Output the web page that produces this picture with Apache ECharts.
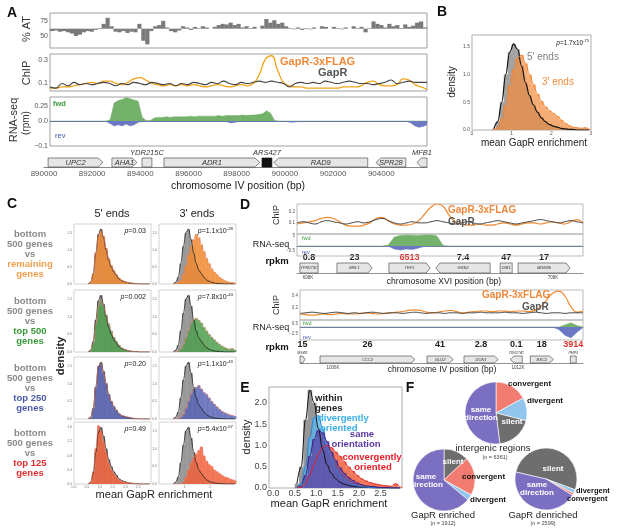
<!DOCTYPE html>
<html>
<head>
<meta charset="utf-8">
<title>GapR enrichment figure</title>
<script src="https://cdn.jsdelivr.net/npm/echarts@6/dist/echarts.min.js"></script>
<style>
  html, body { margin: 0; padding: 0; background: #fff; }
  #chart { width: 617px; height: 531px; }
</style>
</head>
<body>
<div id="chart"></div>
<script>
// ---------------- data: panel A ----------------
const atBaseline = 62;
const atTrack = [58,59,57,58,56,54,50,52,56,58, 57,60,63,70,80,66,57,56,58,55,
  57,56,70,42,36,58,66,68,75,64, 58,56,59,66,64,60,65,63,66,64,
  62,65,68,70,69,72,68,70,64,66, 63,65,62,67,78,72,76,70,72,66,
  63,61,64,60,63,61,64,62,66,65, 62,65,63,61,64,62,66,63,65,56,
  63,74,70,68,64,70,66,68,63,69, 65,67,72,74,64];
const chipGapR = [0.07,0.06,0.10,0.08,0.11,0.09,0.10,0.09,0.10,0.11, 0.10,0.08,0.10,0.09,0.11,0.10,0.09,0.11,0.10,0.09,
  0.10,0.08,0.10,0.09,0.11,0.10,0.09,0.11,0.10,0.12, 0.10,0.09,0.11,0.10,0.11,0.12,0.11,0.12,0.11,0.10,
  0.07,0.10,0.11,0.10,0.11,0.10,0.12,0.11,0.10,0.11, 0.12,0.11,0.10,0.10,0.09,0.10,0.11,0.13,0.10,0.11,
  0.12,0.11,0.11,0.11];
const chipFlag = [0.06,0.06,0.07,0.07,0.08,0.09,0.10,0.11,0.10,0.12, 0.12,0.10,0.09,0.11,0.14,0.15,0.13,0.10,0.09,0.08,
  0.09,0.08,0.09,0.08,0.09,0.08,0.07,0.08,0.09,0.08, 0.07,0.08,0.09,0.08,0.10,0.18,0.31,0.34,0.22,0.11,
  0.08,0.07,0.07,0.06,0.06,0.06,0.06,0.06,0.06,0.07, 0.07,0.07,0.08,0.11,0.12,0.09,0.08,0.08,0.09,0.14,
  0.13,0.09,0.07,0.05];
const rnaFwdA = [0,0,0,0,0,0,0,0,0,0,0,0,0,0,0, 0.02,
  0.3,0.34,0.36,0.39,0.37,0.35,0.33, 0.06, 0.01,0.01,
  0.05,0.06,0.06,0.07,0.06,0.07,0.07,0.07,0.07,0.08,0.07,0.08,0.08,0.08,
  0.08,0.08,0.09,0.08,0.09,0.09,0.09,0.09,0.1,0.09,0.1,0.1,0.11,0.12,
  0.17,0.13,0.01,
  0,0,0,0,0,0,0,0,0,0,0,0,0,0,0,0,0,0,0,0,0,0,0,0,0,0,0,0,0,0,0,0,0,0,0,0,0,0];
const rnaRevA = [-0.002,-0.002,-0.002,-0.002,-0.002,-0.002,-0.002,-0.002,-0.002,-0.002,-0.002,-0.002,-0.002,-0.002,-0.002,
  -0.01,-0.02,-0.015,-0.02,-0.012,-0.02,-0.015,-0.005,
  -0.002,-0.002,-0.002,-0.002,-0.002,-0.002,-0.002,-0.002,-0.002,-0.002,-0.002,-0.002,-0.002,-0.002,-0.002,-0.002,-0.002,-0.002,-0.002,-0.002,-0.002,-0.002,
  -0.008,-0.006,
  -0.002,-0.002,-0.002,-0.002,-0.002,-0.002,-0.002,-0.002,-0.002,-0.002,-0.002,-0.002,-0.002,
  -0.005,-0.004,
  -0.002,-0.002,-0.002,-0.002,-0.002,-0.002,-0.002,-0.002,-0.002,-0.002,-0.002,-0.002,-0.002,-0.002,
  -0.002,-0.002,-0.002,-0.002,-0.002,-0.002,-0.002,-0.002,-0.002,-0.002,-0.002,-0.002,-0.002,-0.002,
  -0.008,-0.02,-0.025,-0.022,-0.015];
// [name, start, end, strand (1 fwd, -1 rev, 0 none, 2 ARS), label position]
const genesA = [
  ['UPC2', 890170, 892450, 1, 'in'],
  ['AHA1', 892820, 893860, 1, 'in'],
  ['YDR215C', 894070, 894480, 0, 'above'],
  ['ADR1', 894980, 898960, 1, 'in'],
  ['ARS427', 899050, 899460, 2, 'above'],
  ['RAD9', 899540, 903440, -1, 'in'],
  ['SPR28', 903780, 905020, -1, 'in'],
  ['MFB1', 905480, 905900, -1, 'above']
];

// ---------------- data: histograms (B, C, E) ----------------
const binWidth = 0.1;
const binMids = [0.55,0.65,0.75,0.85,0.95,1.05,1.15,1.25,1.35,1.45,1.55,1.65,1.75,1.85,1.95,
  2.05,2.15,2.25,2.35,2.45,2.55,2.65,2.75,2.85,2.95];
const gray5B = [0.02,0.15,0.5,1.0,1.4,1.55,1.45,1.15,0.85,0.62,0.45,0.32,0.22,0.15,0.1,0.07,0.05,0.03,0.02,0.01,0.01,0,0,0,0];
const orange3B = [0.01,0.05,0.2,0.45,0.8,1.1,1.3,1.35,1.2,1.0,0.82,0.65,0.52,0.42,0.35,0.3,0.25,0.18,0.12,0.08,0.05,0.04,0.03,0.04,0.02];

const cGray5 = [0,0.05,0.3,0.9,1.45,1.6,1.35,1.0,0.7,0.5,0.35,0.25,0.15,0.1,0.07,0.05,0.03,0.02,0.01,0.01,0,0,0,0,0];
const cOrange5 = [0,0.05,0.3,0.9,1.4,1.55,1.4,1.05,0.75,0.55,0.4,0.28,0.18,0.12,0.08,0.05,0.04,0.03,0.02,0.01,0,0,0,0,0];
const cGreen5 = [0,0.05,0.25,0.8,1.3,1.45,1.3,1.05,0.8,0.6,0.42,0.3,0.2,0.12,0.08,0.05,0.03,0.02,0.01,0,0,0,0,0,0];
const cBlue5 = [0,0.03,0.3,0.9,1.5,1.55,1.3,1.0,0.7,0.5,0.35,0.25,0.15,0.1,0.08,0.06,0.05,0.03,0.02,0.01,0,0,0,0,0];
const cRed5 = [0,0.05,0.35,1.0,1.65,1.5,1.2,0.9,0.6,0.4,0.3,0.2,0.12,0.08,0.05,0.04,0.03,0.02,0.01,0.01,0,0,0,0,0];
const cGray3 = [0,0.05,0.2,0.6,1.1,1.5,1.6,1.3,0.9,0.6,0.4,0.3,0.2,0.12,0.08,0.05,0.03,0.02,0.01,0.01,0,0,0,0,0];
const cOrange3 = [0,0.02,0.05,0.12,0.3,0.55,0.85,1.1,1.3,1.45,1.35,1.15,0.95,0.75,0.6,0.45,0.35,0.28,0.2,0.15,0.1,0.07,0.05,0.04,0.03];
const cGreen3 = [0,0,0.02,0.08,0.2,0.4,0.6,0.8,0.92,0.95,0.9,0.82,0.7,0.6,0.5,0.42,0.35,0.28,0.22,0.17,0.13,0.1,0.08,0.1,0.06];
const cBlue3 = [0,0,0,0.05,0.12,0.3,0.5,0.7,0.85,0.9,0.95,0.85,0.75,0.7,0.6,0.5,0.42,0.35,0.28,0.22,0.18,0.15,0.12,0.1,0.08];
const cRed3 = [0,0,0,0,0.05,0.2,0.4,0.6,0.75,0.85,0.95,1.05,0.8,0.65,0.55,0.5,0.4,0.35,0.3,0.25,0.2,0.18,0.15,0.12,0.1];
const cPvals5 = [['0.03', ''], ['0.002', ''], ['0.20', ''], ['0.49', '']];
const cPvals3 = [['1.1x10', '-28'], ['7.8x10', '-44'], ['1.1x10', '-43'], ['5.4x10', '-67']];

const eWithin = [0.1,0.5,1.6,2.3,2.0,1.4,0.9,0.55,0.35,0.22,0.14,0.09,0.06,0.04,0.03,0.02,0.01,0.01,0,0,0,0,0,0,0];
const eDiv = [0.02,0.1,0.5,1.2,1.65,1.7,1.4,1.0,0.7,0.45,0.3,0.2,0.13,0.08,0.05,0.03,0.02,0.01,0.01,0,0,0,0,0,0];
const eSame = [0.01,0.05,0.3,0.75,1.15,1.35,1.3,1.1,0.85,0.65,0.48,0.35,0.25,0.18,0.12,0.08,0.05,0.04,0.03,0.02,0.01,0.01,0,0,0];
const eConv = [0,0.02,0.1,0.3,0.55,0.8,0.95,1.0,0.95,0.85,0.75,0.62,0.5,0.4,0.3,0.22,0.17,0.13,0.1,0.08,0.06,0.05,0.04,0.1,0.03];

// ---------------- data: panel D ----------------
const chipFlagD1 = [0.09,0.10,0.11,0.12,0.14,0.15,0.14,0.11,0.08,0.07,0.07,0.08,0.10,0.14,0.15,0.12,
  0.09,0.08,0.08,0.09,0.12,0.18,0.24,0.27,0.25,0.17,0.11,0.09,0.08,0.08,0.09,0.08,
  0.08,0.09,0.10,0.09,0.08,0.09,0.10,0.10,0.09,0.10,0.11,0.10,0.09,0.11,0.13,0.10];
const chipGapRD1 = [0.10,0.11,0.10,0.09,0.11,0.12,0.11,0.10,0.09,0.10,0.11,0.10,0.11,0.13,0.14,0.12,
  0.10,0.09,0.10,0.11,0.10,0.10,0.11,0.12,0.11,0.10,0.09,0.10,0.11,0.10,0.09,0.10,
  0.11,0.12,0.11,0.10,0.09,0.10,0.11,0.12,0.13,0.12,0.11,0.10,0.11,0.12,0.11,0.10];
const rnaFwdD1 = [0,0,0,0,0,0,0,0,0,0,0,0,0,0,0, 0.5,4.5,5.3,5.5,5.4,5.2,5.5,5.6,5.0,0.3,
  0,0,0,0,0,0,0,0,0,0,0,0,0,0,0,0,0,0,0,0,0,0,0];
const rnaRevD1 = [-0.03,-0.03,-0.03,-0.03,-0.03,-0.03,-0.03,-0.03,-0.03,-0.03,-0.03,-0.03,-0.03,-0.03,-0.03,-0.03,
  -0.3,-0.4,-0.3,-0.35,-0.2,
  -0.03,-0.03,-0.03,-0.03,-0.03,-0.03,-0.03,-0.03,-0.03,-0.03,-0.03,-0.03,-0.03,-0.03,-0.03,-0.03,-0.03,-0.03,-0.03,-0.03,-0.03,-0.03,-0.03,-0.03,-0.03,-0.03,-0.03];
const chipFlagD2 = [0.10,0.09,0.08,0.09,0.10,0.09,0.10,0.11,0.10,0.10,0.11,0.12,0.11,0.10,0.11,0.12,
  0.13,0.14,0.16,0.17,0.16,0.13,0.12,0.13,0.15,0.16,0.14,0.12,0.13,0.14,0.15,0.15,
  0.14,0.15,0.15,0.14,0.15,0.15,0.14,0.16,0.22,0.34,0.45,0.48,0.40,0.22,0.13,0.15];
const chipGapRD2 = [0.11,0.12,0.13,0.12,0.11,0.12,0.13,0.12,0.11,0.12,0.11,0.12,0.13,0.12,0.11,0.12,
  0.12,0.11,0.12,0.13,0.12,0.11,0.12,0.12,0.11,0.12,0.12,0.11,0.12,0.12,0.13,0.12,
  0.12,0.12,0.13,0.12,0.12,0.11,0.12,0.13,0.12,0.11,0.12,0.12,0.11,0.12,0.12,0.12];
const rnaFwdD2 = [0,0,0,0,0,0,0,0,0,0,0,0,0,0,0,0,0,0,0,0,0,0,0,0,0,0,0,0,0,0,0,0,0,0,0,0,0,0,0,0,0,0,0,0,
  0.3,0.6,0.2,0];
const rnaRevD2 = [-0.05,-0.05,-0.05,-0.05,-0.05,-0.05,-0.05,-0.05,-0.05,-0.05,-0.05,-0.05,-0.05,-0.05,-0.05,
  -0.05,-0.05,-0.05,-0.05,-0.05,-0.05,-0.05,-0.05,-0.05,-0.05,-0.05,-0.05,-0.05,-0.05,-0.05,
  -0.05,-0.05,-0.05,-0.05,-0.05,-0.05,-0.05,-0.05,-0.05,-0.05,-0.05,-0.05,-0.05,
  -1.0,-3.2,-4.2,-2.0,-0.2];
// [name, start, end, strand, label position, rpkm, highlight]
const genesD1 = [
  ['YPR073C', 697670, 698410, 0, 'in', '0.8'],
  ['MRL1', 699180, 700610, 1, 'in', '23'],
  ['TEF1', 701300, 702980, 1, 'in', '6513', true],
  ['GRS2', 703220, 705430, -1, 'in', '7.4'],
  ['DIB1', 705840, 706330, 0, 'in', '47'],
  ['MDM36', 706570, 708690, 1, 'in', '17']
];
const genesD2 = [
  ['MSW1', 1004930, 1005090, 1, 'above', '15'],
  ['CCC2', 1005580, 1008660, 1, 'in', '26'],
  ['GLO2', 1009050, 1009900, 1, 'in', '41'],
  ['DON1', 1010250, 1011360, 1, 'in', '2.8'],
  ['YDR274C', 1011750, 1012140, -1, 'above', '0.1'],
  ['BSC2', 1012400, 1013150, 1, 'in', '18'],
  ['PMP3', 1013700, 1013890, 0, 'above', '3914', true]
];
const posTicksD1 = [698000, 708000];
const posTicksD2 = [1006000, 1012000];

// ---------------- data: panel F ----------------
const pieIntergenic = [['convergent', 17], ['divergent', 12], ['silent', 19], ['same direction', 52]];
const pieEnriched = [['silent', 13], ['convergent', 20], ['divergent', 3], ['same direction', 64]];
const pieDenriched = [['silent', 52], ['divergent', 2], ['convergent', 1.2], ['same direction', 44.8]];

// ---------------- helpers ----------------
const FONT = '"Liberation Sans", Arial, sans-serif';
const pieColors = { 'same direction': '#7b6fc2', 'convergent': '#f27b72', 'divergent': '#92c5ec', 'silent': '#6e6e6e' };
const grids = [], xAxes = [], yAxes = [], series = [], graphics = [];

function font(size, bold, italic) {
  return (italic ? 'italic ' : '') + (bold ? 'bold ' : '') + size + 'px ' + FONT;
}

function txt(x, y, text, size, color, o) {
  o = o || {};
  const style = {
    text: text, font: font(size, o.bold, o.italic), fill: color || '#222',
    align: o.align || 'left', verticalAlign: o.valign || 'middle'
  };
  if (o.rich) style.rich = o.rich;
  graphics.push({ type: 'text', x: x, y: y, rotation: o.rot || 0, silent: true, z: 100, style: style });
}

function frame(x, y, w, h, color) {
  graphics.push({ type: 'rect', silent: true, z: 90, shape: { x: x, y: y, width: w, height: h },
    style: { fill: 'none', stroke: color || '#888', lineWidth: 0.8 } });
}

function pText(x, y, main, sup, size, align) {
  txt(x, y, '{i|p}=' + main + (sup ? '{s|' + sup + '}' : ''), size, '#222', {
    align: align || 'right',
    rich: {
      i: { fontStyle: 'italic', fontSize: size, fontFamily: FONT, fill: '#222' },
      s: { fontSize: size * 0.62, fontFamily: FONT, fill: '#222', verticalAlign: 'top', padding: [0, 0, size * 0.5, 0] }
    }
  });
}

// one grid, one x axis and one y axis; index is shared
function addPanel(box, xa, ya, border) {
  grids.push({ left: box[0], top: box[1], width: box[2], height: box[3], show: !!border,
    borderColor: border || '#ccc', borderWidth: border ? 0.8 : 0, backgroundColor: 'rgba(0,0,0,0)',
    containLabel: false, outerBoundsMode: 'none' });
  const gi = grids.length - 1;
  xAxes.push(Object.assign({ gridIndex: gi }, xa));
  yAxes.push(Object.assign({ gridIndex: gi }, ya));
  return gi;
}

function catAxis(n, line) {
  return { type: 'category', data: Array.from({ length: n }, (_, k) => k), boundaryGap: false,
    axisLine: { show: !!line, onZero: true, lineStyle: { color: line || '#444', width: 0.8 } },
    axisTick: { show: false }, axisLabel: { show: false }, splitLine: { show: false } };
}

function valAxis(min, max, lab, line, interval) {
  const ax = { type: 'value', min: min, max: max, splitLine: { show: false }, axisTick: { show: false },
    axisLine: { show: !!line, onZero: true, lineStyle: { color: line || '#444', width: 0.8 } },
    axisLabel: { show: false } };
  if (interval) ax.interval = interval;
  if (lab) {
    ax.axisLabel = { show: true, fontSize: lab.size, color: lab.color || '#555', fontFamily: FONT,
      margin: lab.margin == null ? 2 : lab.margin, hideOverlap: false,
      formatter: lab.fmt || (v => String(v)), showMaxLabel: lab.showMax !== false };
    if (lab.values) ax.axisLabel.customValues = lab.values;
  }
  return ax;
}

const fix1 = v => v.toFixed(1);
const minus = v => String(v).replace('-', '\u2212');

function histSeries(gi, vals, color, opacity) {
  series.push({ type: 'custom', xAxisIndex: gi, yAxisIndex: gi, silent: true, z: 2,
    data: binMids.map((m, k) => [m, vals[k]]),
    renderItem: function (params, api) {
      const p0 = api.coord([api.value(0) - binWidth / 2, api.value(1)]);
      const p1 = api.coord([api.value(0) + binWidth / 2, 0]);
      return { type: 'rect', shape: { x: p0[0], y: p0[1], width: p1[0] - p0[0] + 0.3, height: p1[1] - p0[1] },
        style: { fill: color, opacity: opacity } };
    } });
}

function kdeSeries(gi, vals, color, width) {
  series.push({ type: 'line', xAxisIndex: gi, yAxisIndex: gi, silent: true, z: 5,
    data: binMids.map((m, k) => [m, vals[k]]), smooth: 0.4, smoothMonotone: 'x',
    showSymbol: false, symbol: 'none', lineStyle: { color: color, width: width } });
}

function trackLine(gi, vals, color, width, fill) {
  const s = { type: 'line', xAxisIndex: gi, yAxisIndex: gi, data: vals, silent: true,
    smooth: fill ? false : 0.5, showSymbol: false, symbol: 'none', z: 3,
    lineStyle: { color: color, width: width } };
  if (fill) s.areaStyle = { color: fill, opacity: 1 };
  series.push(s);
}

function geneSeries(gi, list, o) {
  series.push({ type: 'custom', xAxisIndex: gi, yAxisIndex: gi, silent: true, z: 4,
    data: list.map(g => [g[1], g[2]]), encode: { x: [0, 1] },
    renderItem: function (params, api) {
      const g = list[params.dataIndex];
      const cs = params.coordSys;
      const a = api.coord([g[1], 0.5])[0], b = api.coord([g[2], 0.5])[0];
      const y0 = cs.y, y1 = cs.y + cs.height, ym = (y0 + y1) / 2;
      const tip = Math.min(o.tip, (b - a) * 0.45);
      let pts;
      if (g[3] === 1) pts = [[a, y0], [b - tip, y0], [b, ym], [b - tip, y1], [a, y1]];
      else if (g[3] === -1) pts = [[a + tip, y0], [b, y0], [b, y1], [a + tip, y1], [a, ym]];
      else pts = [[a, y0], [b, y0], [b, y1], [a, y1]];
      const children = [{ type: 'polygon', shape: { points: pts },
        style: { fill: g[3] === 2 ? '#111' : '#e6e6e6', stroke: g[3] === 2 ? '#111' : '#555', lineWidth: 0.7 } }];
      const cx = (a + b) / 2;
      if (g[4] === 'in') {
        children.push({ type: 'text', x: cx, y: ym, style: { text: g[0], font: font(o.nameSize, false, true),
          fill: '#333', align: 'center', verticalAlign: 'middle' } });
      } else {
        children.push({ type: 'text', x: cx, y: y0 - o.aboveGap, style: { text: g[0],
          font: font(o.aboveSize, false, true), fill: '#333', align: 'center', verticalAlign: 'bottom' } });
      }
      if (g[5]) {
        children.push({ type: 'text', x: cx, y: y0 - o.rpkmGap, style: { text: g[5], font: font(9, true),
          fill: g[6] ? '#e0302c' : '#222', align: 'center', verticalAlign: 'bottom' } });
      }
      return { type: 'group', children: children };
    } });
}

function posLabelSeries(gi, ticks) {
  series.push({ type: 'custom', xAxisIndex: gi, yAxisIndex: gi, silent: true, z: 4,
    data: ticks.map(v => [v]), encode: { x: 0 },
    renderItem: function (params, api) {
      const cs = params.coordSys;
      const x = api.coord([api.value(0), 0])[0];
      return { type: 'text', x: x, y: cs.y + cs.height + 2, style: { text: (api.value(0) / 1000) + 'K',
        font: font(4.5), fill: '#444', align: 'center', verticalAlign: 'top' } };
    } });
}

function pieSeries(center, list, startAngle) {
  series.push({ type: 'pie', center: center, radius: 31, startAngle: startAngle, clockwise: true,
    silent: true, label: { show: false }, labelLine: { show: false }, animation: false,
    itemStyle: { borderColor: '#fff', borderWidth: 0.6 },
    data: list.map(d => ({ name: d[0], value: d[1], itemStyle: { color: pieColors[d[0]] } })) });
}

// ---------------- panel A ----------------
txt(12, 13, 'A', 14, '#111', { bold: true, align: 'center' });
let gi = addPanel([50, 13, 377, 35], { type: 'category', data: atTrack.map((_, k) => k), show: false },
  valAxis(30, 88, { values: [50, 75], size: 7 }), '#888');
series.push({ type: 'custom', xAxisIndex: gi, yAxisIndex: gi, silent: true,
  data: atTrack.map((v, k) => [k, v]),
  renderItem: function (params, api) {
    const base = api.coord([api.value(0), atBaseline]);
    const top = api.coord([api.value(0), api.value(1)]);
    const w = api.size([1, 0])[0];
    return { type: 'rect', shape: { x: base[0] - w / 2, y: Math.min(base[1], top[1]), width: w + 0.2,
      height: Math.abs(top[1] - base[1]) }, style: { fill: '#7a7a7a' } };
  } });
txt(27, 29, '% AT', 11, '#333', { rot: Math.PI / 2, align: 'center' });

gi = addPanel([50, 54, 377, 37], catAxis(chipGapR.length), valAxis(0.035, 0.355, { values: [0.1, 0.3], size: 7, fmt: fix1 }), '#888');
trackLine(gi, chipFlag, '#f2a31c', 1.3);
trackLine(gi, chipGapR, '#444', 1.1);
txt(27, 73, 'ChIP', 11, '#333', { rot: Math.PI / 2, align: 'center' });
txt(280, 62, 'GapR-3xFLAG', 11, '#f0883a', { bold: true });
txt(318, 73, 'GapR', 11, '#555', { bold: true });

gi = addPanel([50, 97, 377, 24], catAxis(rnaFwdA.length, '#444'),
  valAxis(0, 0.4, { values: [0, 0.25], size: 7, fmt: v => (v === 0 ? '0.0' : String(v)) }));
trackLine(gi, rnaFwdA, '#74b16b', 0.5, '#74b16b');
gi = addPanel([50, 121, 377, 25], catAxis(rnaRevA.length), valAxis(-0.1, 0, { values: [-0.1], size: 7, fmt: minus }));
trackLine(gi, rnaRevA, '#6a78c4', 0.5, '#6a78c4');
frame(50, 97, 377, 49, '#888');
txt(14, 120, 'RNA-seq', 11, '#333', { rot: Math.PI / 2, align: 'center' });
txt(26, 123, '(rpm)', 10, '#333', { rot: Math.PI / 2, align: 'center' });
txt(53, 104, 'fwd', 7.5, '#3c9a3c', { bold: true });
txt(55, 136, 'rev', 7.5, '#4050a8');

gi = addPanel([44, 158, 383, 9],
  valAxis(890000, 905900, { size: 8, margin: 3, showMax: false, color: '#555' }, '#666', 2000),
  valAxis(0, 1));
geneSeries(gi, genesA, { tip: 5, nameSize: 7.5, aboveSize: 7.5, aboveGap: 1.5, rpkmGap: 0 });
txt(238, 186, 'chromosome IV position (bp)', 10.5, '#222', { align: 'center' });

// ---------------- panel B ----------------
txt(442, 12, 'B', 14, '#111', { bold: true, align: 'center' });
gi = addPanel([472, 35, 119, 95], valAxis(0, 3, { values: [0, 1, 2, 3], size: 5, margin: 1 }),
  valAxis(0, 1.71, { values: [0, 0.5, 1, 1.5], size: 5, fmt: fix1 }), '#999');
histSeries(gi, gray5B, '#9a9a9a', 0.9);
histSeries(gi, orange3B, '#f28c3c', 0.7);
kdeSeries(gi, gray5B, '#111', 1.2);
kdeSeries(gi, orange3B, '#f08030', 1);
txt(452, 82, 'density', 10, '#222', { rot: Math.PI / 2, align: 'center' });
pText(589, 43, '1.7x10', '-75', 6.5);
txt(527, 57, "5' ends", 10, '#808080');
txt(542, 82, "3' ends", 10, '#f08c3c');
txt(534, 143, 'mean GapR enrichment', 10, '#222', { align: 'center' });

// ---------------- panel C ----------------
txt(12, 204, 'C', 14, '#111', { bold: true, align: 'center' });
txt(112, 214, "5' ends", 11, '#222', { align: 'center' });
txt(197, 214, "3' ends", 11, '#222', { align: 'center' });
const cRows = [[224, 60], [290, 62], [357, 62], [422, 62]];
const cColors = ['#f08a30', '#4e9e4e', '#5864b4', '#f0603a'];
const cHist5 = [cOrange5, cGreen5, cBlue5, cRed5];
const cHist3 = [cOrange3, cGreen3, cBlue3, cRed3];
const cNames = [['remaining', 'genes'], ['top 500', 'genes'], ['top 250', 'genes'], ['top 125', 'genes']];
const cNameColors = ['#f0a050', '#3a9a3a', '#4a5aa8', '#e03030'];
cRows.forEach(function (r, k) {
  const last = k === 3;
  const yl = last ? { values: [0, 0.4, 0.8, 1.2, 1.6], size: 3.5, fmt: fix1, color: '#777' }
    : { values: [0, 0.5, 1, 1.5], size: 3.5, fmt: fix1, color: '#777' };
  const xl = last ? { values: [0, 0.5, 1, 1.5, 2, 2.5], size: 3.5, fmt: fix1, color: '#777', margin: 1 } : null;
  let g = addPanel([74, r[0], 77, r[1]], valAxis(0, 3, xl), valAxis(0, 1.75, yl), '#c8c8c8');
  histSeries(g, cGray5, '#8e8e8e', 0.9);
  histSeries(g, cHist5[k], cColors[k], 0.85);
  kdeSeries(g, cGray5, '#222', 0.8);
  kdeSeries(g, cHist5[k], '#e8806a', 0.7);
  pText(146, r[0] + 7, cPvals5[k][0], cPvals5[k][1], 7);
  const xr = last ? { values: [1, 2], size: 3.5, color: '#777', margin: 1 } : null;
  g = addPanel([159, r[0], 77, r[1]], valAxis(0, 3, xr),
    valAxis(0, 1.75, { values: [0, 0.5, 1, 1.5], size: 3.5, fmt: fix1, color: '#777' }), '#c8c8c8');
  histSeries(g, cGray3, '#8e8e8e', 0.9);
  histSeries(g, cHist3[k], cColors[k], 0.85);
  kdeSeries(g, cGray3, '#222', 0.8);
  kdeSeries(g, cHist3[k], '#e8806a', 0.7);
  pText(233, r[0] + 7, cPvals3[k][0], cPvals3[k][1], 7);
  const cy = r[0] + r[1] / 2;
  txt(30, cy - 20, 'bottom', 9.5, '#8a8a8a', { bold: true, align: 'center' });
  txt(30, cy - 10, '500 genes', 9.5, '#8a8a8a', { bold: true, align: 'center' });
  txt(30, cy, 'vs', 9.5, '#8a8a8a', { bold: true, align: 'center' });
  txt(30, cy + 10, cNames[k][0], 9.5, cNameColors[k], { bold: true, align: 'center' });
  txt(30, cy + 20, cNames[k][1], 9.5, cNameColors[k], { bold: true, align: 'center' });
});
txt(61, 356, 'density', 11, '#222', { bold: true, rot: Math.PI / 2, align: 'center' });
txt(154, 495, 'mean GapR enrichment', 11, '#222', { align: 'center' });

// ---------------- panel D ----------------
txt(245, 205, 'D', 14, '#111', { bold: true, align: 'center' });
gi = addPanel([297, 204, 286, 30], catAxis(chipFlagD1.length),
  valAxis(0, 0.27, { values: [0.1, 0.2], size: 4.5, fmt: fix1 }), '#aaa');
trackLine(gi, chipFlagD1, '#f08a30', 1.2);
trackLine(gi, chipGapRD1, '#444', 1);
gi = addPanel([297, 234, 286, 12], catAxis(rnaFwdD1.length, '#666'), valAxis(0, 6, { values: [5], size: 4.5 }));
trackLine(gi, rnaFwdD1, '#74b16b', 0.5, '#74b16b');
gi = addPanel([297, 246, 286, 10], catAxis(rnaRevD1.length), valAxis(-1, 0, { values: [-0.5], size: 4.5, fmt: minus }));
trackLine(gi, rnaRevD1, '#6a78c4', 0.5, '#6a78c4');
frame(297, 234, 286, 22, '#aaa');
gi = addPanel([297, 263, 286, 10], valAxis(697550, 709220, null, '#777'), valAxis(0, 1));
geneSeries(gi, genesD1, { tip: 4, nameSize: 4, aboveSize: 3.5, aboveGap: 1, rpkmGap: 0.5 });
posLabelSeries(gi, posTicksD1);
txt(277, 215, 'ChIP', 9, '#333', { rot: Math.PI / 2, align: 'center' });
txt(271, 245, 'RNA-seq', 9, '#222', { align: 'center' });
txt(277, 261, 'rpkm', 9.5, '#111', { bold: true, align: 'center' });
txt(302, 238, 'fwd', 5.5, '#3c9a3c');
txt(302, 252, 'rev', 5.5, '#4050a8');
txt(448, 210, 'GapR-3xFLAG', 10, '#f0883a', { bold: true });
txt(448, 222, 'GapR', 10, '#555', { bold: true });
txt(444, 282, 'chromosome XVI position (bp)', 8.5, '#222', { align: 'center' });

gi = addPanel([300, 290, 283, 30], catAxis(chipFlagD2.length),
  valAxis(0, 0.5, { values: [0.2, 0.4], size: 4.5, fmt: fix1 }), '#aaa');
trackLine(gi, chipFlagD2, '#f08a30', 1.2);
trackLine(gi, chipGapRD2, '#444', 1);
gi = addPanel([300, 320, 283, 7], catAxis(rnaFwdD2.length, '#666'), valAxis(0, 1, { values: [0.5], size: 4.5 }));
trackLine(gi, rnaFwdD2, '#74b16b', 0.5, '#74b16b');
gi = addPanel([300, 327, 283, 13], catAxis(rnaRevD2.length), valAxis(-5, 0, { values: [-2.5], size: 4.5, fmt: minus }));
trackLine(gi, rnaRevD2, '#6a78c4', 0.5, '#6a78c4');
frame(300, 320, 283, 20, '#aaa');
gi = addPanel([300, 356, 283, 7], valAxis(1004930, 1014110, null, '#777'), valAxis(0, 1));
geneSeries(gi, genesD2, { tip: 4, nameSize: 4, aboveSize: 3.5, aboveGap: 1, rpkmGap: 6.5 });
posLabelSeries(gi, posTicksD2);
txt(277, 305, 'ChIP', 9, '#333', { rot: Math.PI / 2, align: 'center' });
txt(271, 328, 'RNA-seq', 9, '#222', { align: 'center' });
txt(277, 347, 'rpkm', 9.5, '#111', { bold: true, align: 'center' });
txt(303, 323, 'fwd', 5.5, '#3c9a3c');
txt(303, 337, 'rev', 5.5, '#4050a8');
txt(482, 295, 'GapR-3xFLAG', 10, '#f0883a', { bold: true });
txt(522, 307, 'GapR', 10, '#555', { bold: true });
txt(442, 370, 'chromosome IV position (bp)', 8.5, '#222', { align: 'center' });

// ---------------- panel E ----------------
txt(245, 388, 'E', 14, '#111', { bold: true, align: 'center' });
gi = addPanel([269, 387, 133, 101],
  valAxis(-0.1, 3.0, { values: [0, 0.5, 1, 1.5, 2, 2.5], size: 9, fmt: fix1, margin: 1, color: '#444' }),
  valAxis(0, 2.37, { values: [0, 0.5, 1, 1.5, 2], size: 9, fmt: fix1, margin: 2, color: '#444' }), '#999');
// drawing order: purple ends on top of the core, orange shows in the tail
histSeries(gi, eWithin, '#8c8c8c', 0.9);
histSeries(gi, eConv, '#f0603c', 0.85);
histSeries(gi, eDiv, '#5ab4ea', 0.8);
histSeries(gi, eSame, '#5a48a8', 0.8);
kdeSeries(gi, eWithin, '#111', 1);
kdeSeries(gi, eDiv, '#2a80d0', 1);
kdeSeries(gi, eSame, '#3a1a80', 1);
kdeSeries(gi, eConv, '#e0202a', 1);
txt(247, 437, 'density', 11, '#222', { rot: Math.PI / 2, align: 'center' });
txt(315, 398, 'within', 9.5, '#222', { bold: true });
txt(315, 408, 'genes', 9.5, '#222', { bold: true });
txt(318, 418, 'divergently', 9.5, '#3ab0e8', { bold: true });
txt(320, 428, 'oriented', 9.5, '#3ab0e8', { bold: true });
txt(362, 434, 'same', 9.5, '#5a3aa0', { bold: true, align: 'center' });
txt(356, 444, 'orientation', 9.5, '#5a3aa0', { bold: true, align: 'center' });
txt(372, 457, 'convergently', 9.5, '#e8202a', { bold: true, align: 'center' });
txt(373, 467, 'oriented', 9.5, '#e8202a', { bold: true, align: 'center' });
txt(329, 504, 'mean GapR enrichment', 11, '#222', { align: 'center' });

// ---------------- panel F ----------------
txt(410, 388, 'F', 14, '#111', { bold: true, align: 'center' });
pieSeries([496, 413], pieIntergenic, 90);
pieSeries([444, 480], pieEnriched, 90);
pieSeries([546, 479], pieDenriched, 167);
txt(508, 384, 'convergent', 8, '#111', { bold: true });
txt(527, 401, 'divergent', 8, '#111', { bold: true });
txt(481, 410, 'same', 8, '#fff', { bold: true, align: 'center' });
txt(481, 418, 'direction', 8, '#fff', { bold: true, align: 'center' });
txt(512, 422, 'silent', 8, '#fff', { bold: true, align: 'center' });
txt(493, 448, 'intergenic regions', 9.5, '#222', { align: 'center' });
txt(495, 457, '(n = 6361)', 5.5, '#444', { align: 'center' });
txt(453, 462, 'silent', 8, '#fff', { bold: true, align: 'center' });
txt(426, 477, 'same', 8, '#fff', { bold: true, align: 'center' });
txt(426, 485, 'direction', 8, '#fff', { bold: true, align: 'center' });
txt(462, 477, 'convergent', 8, '#111', { bold: true });
txt(470, 500, 'divergent', 8, '#111', { bold: true });
txt(443, 515, 'GapR enriched', 9.5, '#222', { align: 'center' });
txt(443, 523, '(n = 1912)', 5.5, '#444', { align: 'center' });
txt(553, 469, 'silent', 8, '#fff', { bold: true, align: 'center' });
txt(537, 485, 'same', 8, '#fff', { bold: true, align: 'center' });
txt(537, 493, 'direction', 8, '#fff', { bold: true, align: 'center' });
txt(576, 491, 'divergent', 7.5, '#111', { bold: true });
txt(567, 499, 'convergent', 7.5, '#111', { bold: true });
txt(543, 515, 'GapR denriched', 9.5, '#222', { align: 'center' });
txt(543, 523, '(n = 2599)', 5.5, '#444', { align: 'center' });

// ---------------- render ----------------
const chart = echarts.init(document.getElementById('chart'), null, { renderer: 'canvas' });
chart.setOption({
  animation: false,
  backgroundColor: '#fff',
  textStyle: { fontFamily: FONT },
  grid: grids,
  xAxis: xAxes,
  yAxis: yAxes,
  series: series,
  graphic: { elements: graphics }
});
</script>
</body>
</html>
